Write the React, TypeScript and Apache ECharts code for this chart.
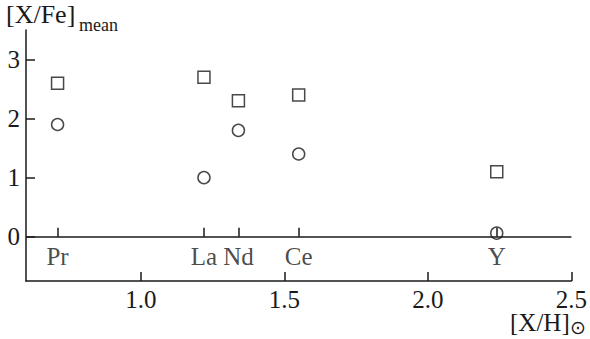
import React, { useEffect, useRef } from "react";
import * as echarts from "echarts";

const elements = ["Pr", "La", "Nd", "Ce", "Y"];
const solarX = [0.71, 1.22, 1.34, 1.55, 2.24];
const squareVals = [2.6, 2.7, 2.3, 2.4, 1.1];
const circleVals = [1.9, 1.0, 1.8, 1.4, 0.06];
const xTicks = [1.0, 1.5, 2.0, 2.5];
const yTicks = [0, 1, 2, 3];

const FONT = "Liberation Serif";
const INK = "#1a1a1a";

export default function App() {
  const ref = useRef<HTMLDivElement>(null);
  useEffect(() => {
    if (!ref.current) return;
    const chart = echarts.init(ref.current, undefined, { renderer: "svg" });
    const tickLen = 9 / 59;
    chart.setOption({
      animation: false,
      grid: { left: 26, right: 18, top: 30, bottom: 58 },
      xAxis: {
        type: "value",
        min: 0.6,
        max: 2.5,
        splitLine: { show: false },
        axisLine: { onZero: false, lineStyle: { color: INK, width: 1.5 } },
        axisTick: {
          inside: true,
          length: 9,
          customValues: xTicks,
          lineStyle: { color: INK, width: 1.5 },
        },
        axisLabel: {
          customValues: xTicks,
          formatter: (v: number) => v.toFixed(1),
          color: INK,
          fontFamily: FONT,
          fontSize: 25,
          margin: 6,
        },
      },
      yAxis: {
        type: "value",
        min: -0.75,
        max: 3.5,
        splitLine: { show: false },
        axisLine: { onZero: false, lineStyle: { color: INK, width: 1.5 } },
        axisTick: {
          inside: true,
          length: 9,
          customValues: yTicks,
          lineStyle: { color: INK, width: 1.5 },
        },
        axisLabel: {
          customValues: yTicks,
          color: INK,
          fontFamily: FONT,
          fontSize: 25,
          margin: 6,
        },
      },
      graphic: [
        {
          type: "text",
          left: 6,
          top: 1,
          style: { text: "[X/Fe]", font: `26px "${FONT}"`, fill: INK },
        },
        {
          type: "text",
          left: 79,
          top: 16,
          style: { text: "mean", font: `18px "${FONT}"`, fill: INK },
        },
        {
          type: "text",
          left: 510,
          top: 310,
          style: { text: "[X/H]", font: `25px "${FONT}"`, fill: INK },
        },
        {
          type: "text",
          left: 570,
          top: 317,
          style: { text: "\u2299", font: `19px "DejaVu Sans"`, fill: INK },
        },
      ],
      series: [
        {
          type: "scatter",
          name: "labels",
          data: solarX.map((x, i) => ({ value: [x, 0], name: elements[i] })),
          symbolSize: 0,
          label: {
            show: true,
            position: "inside",
            offset: [0, 20],
            formatter: (p: any) => p.name,
            color: INK,
            fontFamily: FONT,
            fontSize: 25,
          },
          markLine: {
            silent: true,
            symbol: ["none", "none"],
            label: { show: false },
            lineStyle: { color: INK, width: 1.5, type: "solid" },
            data: [
              { yAxis: 0 },
              ...solarX.map((x) => [
                { coord: [x, 0] },
                { coord: [x, tickLen] },
              ]),
            ],
          },
        },
        {
          type: "scatter",
          name: "squares",
          data: solarX.map((x, i) => [x, squareVals[i]]),
          symbol: "rect",
          symbolSize: 12,
          itemStyle: { color: "#fff", borderColor: INK, borderWidth: 1.5 },
        },
        {
          type: "scatter",
          name: "circles",
          data: solarX.map((x, i) => [x, circleVals[i]]),
          symbol: "circle",
          symbolSize: 12,
          itemStyle: { color: "transparent", borderColor: INK, borderWidth: 1.5 },
        },
      ],
    });
    return () => chart.dispose();
  }, []);
  return <div ref={ref} style={{ width: 590, height: 339, position: "absolute", left: 0, top: 0 }} />;
}
